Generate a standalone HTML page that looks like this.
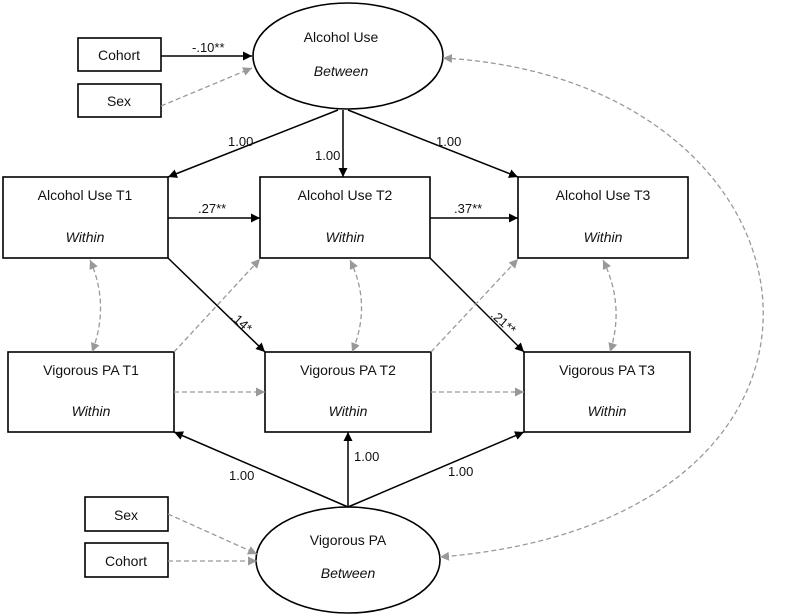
<!DOCTYPE html>
<html><head><meta charset="utf-8"><style>
body{margin:0;background:#fff}
svg{display:block}
text{font-family:"Liberation Sans",sans-serif;font-size:14px;fill:#111}
.i{font-style:italic}
.s{font-size:13px}
</style></head><body>
<svg width="800" height="616" viewBox="0 0 800 616" xmlns="http://www.w3.org/2000/svg">
<defs>
<marker id="a" viewBox="0 0 10 10" refX="10" refY="5" markerWidth="9" markerHeight="9" markerUnits="userSpaceOnUse" orient="auto-start-reverse"><path d="M0,0L10,5L0,10z" fill="#000"/></marker>
<marker id="g" viewBox="0 0 10 10" refX="10" refY="5" markerWidth="9" markerHeight="9" markerUnits="userSpaceOnUse" orient="auto-start-reverse"><path d="M0,0L10,5L0,10z" fill="#999"/></marker>
</defs>
<g fill="none" stroke="#000" stroke-width="1.6">
<ellipse cx="348" cy="56" rx="95" ry="53" fill="#fff"/>
<ellipse cx="348" cy="560" rx="92" ry="53" fill="#fff"/>
<rect x="78" y="38" width="83" height="33"/>
<rect x="78" y="84" width="83" height="33"/>
<rect x="85" y="497" width="83" height="34"/>
<rect x="85" y="543" width="83" height="34"/>
<rect x="3" y="177" width="165" height="81"/>
<rect x="260" y="177" width="170" height="81"/>
<rect x="518" y="177" width="170" height="81"/>
<rect x="8" y="352" width="166" height="80"/>
<rect x="265" y="352" width="166" height="80"/>
<rect x="524" y="352" width="166" height="80"/>
</g>
<g stroke="#000" stroke-width="1.5" fill="none">
<line x1="161" y1="56" x2="252" y2="56" marker-end="url(#a)"/>
<line x1="338" y1="110" x2="168" y2="177" marker-end="url(#a)"/>
<line x1="343" y1="110" x2="343" y2="177" marker-end="url(#a)"/>
<line x1="348" y1="110" x2="518" y2="177" marker-end="url(#a)"/>
<line x1="168" y1="218" x2="260" y2="218" marker-end="url(#a)"/>
<line x1="430" y1="218" x2="518" y2="218" marker-end="url(#a)"/>
<line x1="168" y1="258" x2="265" y2="352" marker-end="url(#a)"/>
<line x1="430" y1="258" x2="524" y2="352" marker-end="url(#a)"/>
<line x1="348" y1="507" x2="174" y2="432" marker-end="url(#a)"/>
<line x1="348" y1="507" x2="348" y2="432" marker-end="url(#a)"/>
<line x1="348" y1="507" x2="524" y2="432" marker-end="url(#a)"/>
</g>
<g stroke="#999" stroke-width="1.3" fill="none" stroke-dasharray="5,3">
<line x1="161" y1="106" x2="252" y2="68" marker-end="url(#g)"/>
<line x1="168" y1="514" x2="257" y2="554" marker-end="url(#g)"/>
<line x1="168" y1="561" x2="257" y2="561" marker-end="url(#g)"/>
<path d="M90,260 Q110,305 92,352" marker-start="url(#g)" marker-end="url(#g)"/>
<path d="M350,260 Q372,305 352,352" marker-start="url(#g)" marker-end="url(#g)"/>
<path d="M603,260 Q625,305 610,352" marker-start="url(#g)" marker-end="url(#g)"/>
<line x1="174" y1="352" x2="260" y2="259" marker-end="url(#g)"/>
<line x1="431" y1="352" x2="518" y2="259" marker-end="url(#g)"/>
<line x1="174" y1="392" x2="265" y2="392" marker-end="url(#g)"/>
<line x1="431" y1="392" x2="524" y2="392" marker-end="url(#g)"/>
<path d="M443,58 C840,80 900,520 440,557" marker-start="url(#g)" marker-end="url(#g)"/>
</g>
<g text-anchor="middle">
<text x="341" y="42">Alcohol Use</text>
<text x="341" y="76" class="i">Between</text>
<text x="348" y="545">Vigorous PA</text>
<text x="348" y="578" class="i">Between</text>
<text x="119" y="60">Cohort</text>
<text x="119" y="106">Sex</text>
<text x="126" y="520">Sex</text>
<text x="126" y="566">Cohort</text>
<text x="85" y="200">Alcohol Use T1</text>
<text x="85" y="242" class="i">Within</text>
<text x="345" y="200">Alcohol Use T2</text>
<text x="345" y="242" class="i">Within</text>
<text x="603" y="200">Alcohol Use T3</text>
<text x="603" y="242" class="i">Within</text>
<text x="91" y="375">Vigorous PA T1</text>
<text x="91" y="416" class="i">Within</text>
<text x="348" y="375">Vigorous PA T2</text>
<text x="348" y="416" class="i">Within</text>
<text x="607" y="375">Vigorous PA T3</text>
<text x="607" y="416" class="i">Within</text>
</g>
<g class="s">
<text x="192" y="52" class="s">-.10**</text>
<text x="228" y="146" class="s">1.00</text>
<text x="315" y="160" class="s">1.00</text>
<text x="436" y="146" class="s">1.00</text>
<text x="198" y="213" class="s">.27**</text>
<text x="454" y="213" class="s">.37**</text>
<text x="230" y="318" class="s" transform="rotate(42 230 318)">.14*</text>
<text x="490" y="316" class="s" transform="rotate(42 490 316)">.21**</text>
<text x="229" y="480" class="s">1.00</text>
<text x="354" y="461" class="s">1.00</text>
<text x="448" y="476" class="s">1.00</text>
</g>
</svg>
</body></html>
